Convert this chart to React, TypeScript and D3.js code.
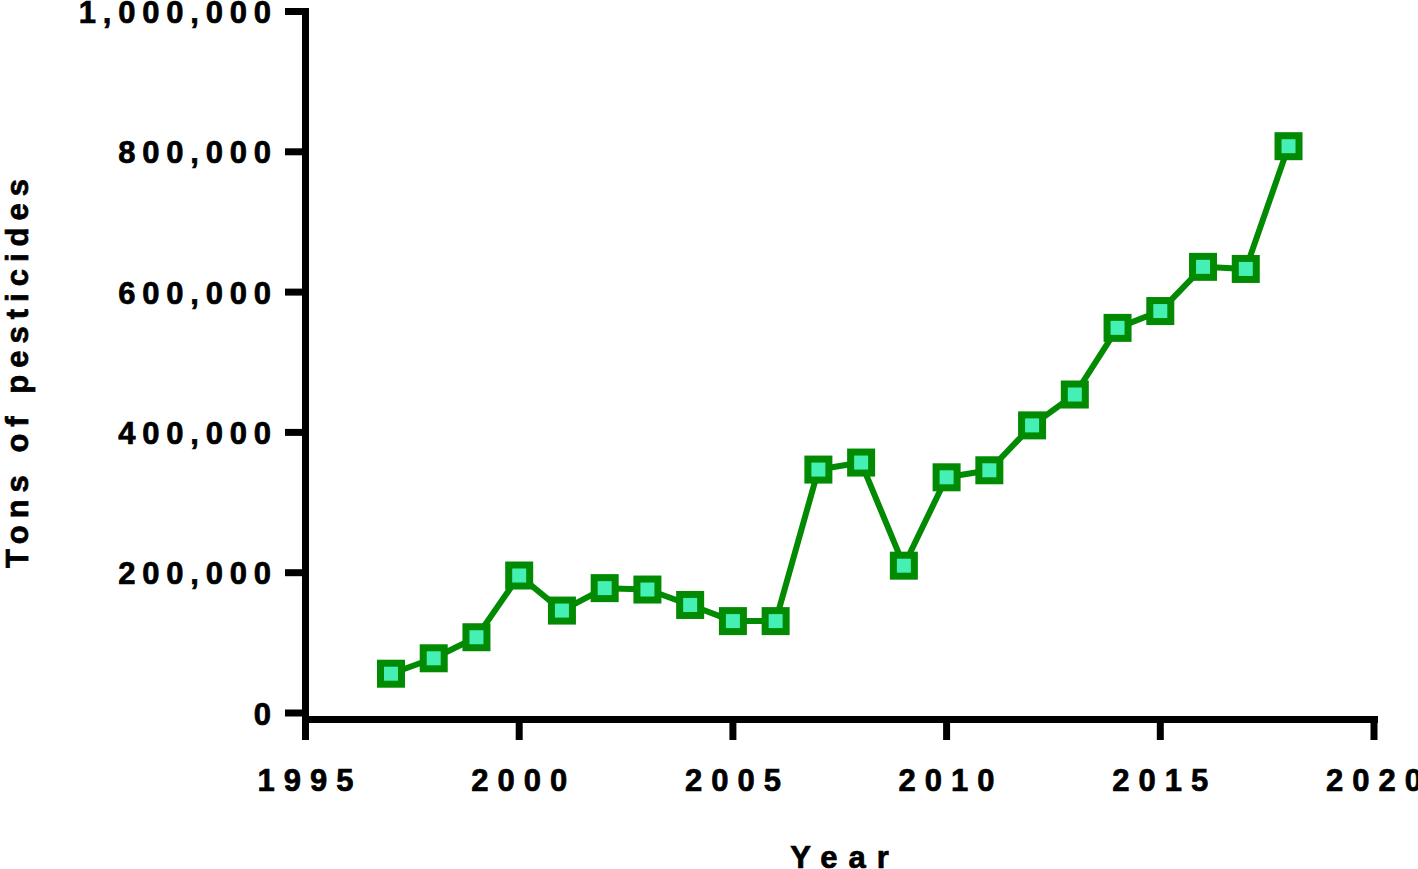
import React from 'react';
import * as d3 from 'd3';

const years = [1997, 1998, 1999, 2000, 2001, 2002, 2003, 2004, 2005, 2006, 2007, 2008, 2009, 2010, 2011, 2012, 2013, 2014, 2015, 2016, 2017, 2018];
const tons = [56000, 78000, 108000, 196000, 146000, 178000, 176000, 154000, 131000, 131000, 347000, 357000, 210000, 336000, 346000, 410000, 454000, 549000, 573000, 636000, 633000, 808000];
const xTicks = [1995, 2000, 2005, 2010, 2015, 2020];
const yTicks = [0, 200000, 400000, 600000, 800000, 1000000];

const W = 1418;
const H = 869;
const font = '"Liberation Sans", Arial, sans-serif';
const green = '#028A02';

const App = () => {
  const x = d3.scaleLinear().domain([1995, 2020]).range([305.5, 1374]);
  const y = d3.scaleLinear().domain([0, 1000000]).range([713, 11.5]);
  const fmt = d3.format(',');

  const line = d3.line<number>()
    .x((d, i) => x(years[i]))
    .y(d => y(d));

  const axisY = 719.5; // x axis sits a bit under the zero tick
  const yLs = 6.8;
  const xLs = 9;

  // heavier glyphs, closer to the reference's black face
  const txt = { fontFamily: font, fontWeight: 'bold' as const, fontSize: 31, fill: '#000', stroke: '#000', strokeWidth: 0.7 };

  return (
    <svg width={W} height={H} style={{ position: 'absolute', left: 0, top: 0 }}>
      {/* y axis */}
      <line x1={305.5} x2={305.5} y1={8} y2={740} stroke="#000" strokeWidth={7} />
      {yTicks.map(t => (
        <g key={t}>
          <line x1={285} x2={305} y1={y(t)} y2={y(t)} stroke="#000" strokeWidth={7} />
          <text x={271 + yLs} y={y(t) + 11.5} textAnchor="end" letterSpacing={yLs} {...txt}>{fmt(t)}</text>
        </g>
      ))}
      {/* x axis */}
      <line x1={302} x2={1378} y1={axisY} y2={axisY} stroke="#000" strokeWidth={7} />
      {xTicks.map(t => (
        <g key={t}>
          <line x1={x(t)} x2={x(t)} y1={axisY} y2={740} stroke="#000" strokeWidth={7} />
          <text x={x(t) + xLs / 2} y={791} textAnchor="middle" letterSpacing={xLs} {...txt}>{t}</text>
        </g>
      ))}
      {/* titles */}
      <text x={840 + 5} y={868} textAnchor="middle" letterSpacing={11} {...txt}>Year</text>
      <text transform={`translate(28, 370) rotate(-90)`} textAnchor="middle" letterSpacing={7} {...txt}>Tons of pesticides</text>
      {/* series */}
      <path d={line(tons) ?? ''} fill="none" stroke={green} strokeWidth={6} strokeLinejoin="round" />
      {tons.map((v, i) => (
        <rect key={years[i]} x={x(years[i]) - 10.5} y={y(v) - 10.5} width={21} height={21}
          fill="#45F0B4" stroke={green} strokeWidth={7} />
      ))}
    </svg>
  );
};

export default App;
